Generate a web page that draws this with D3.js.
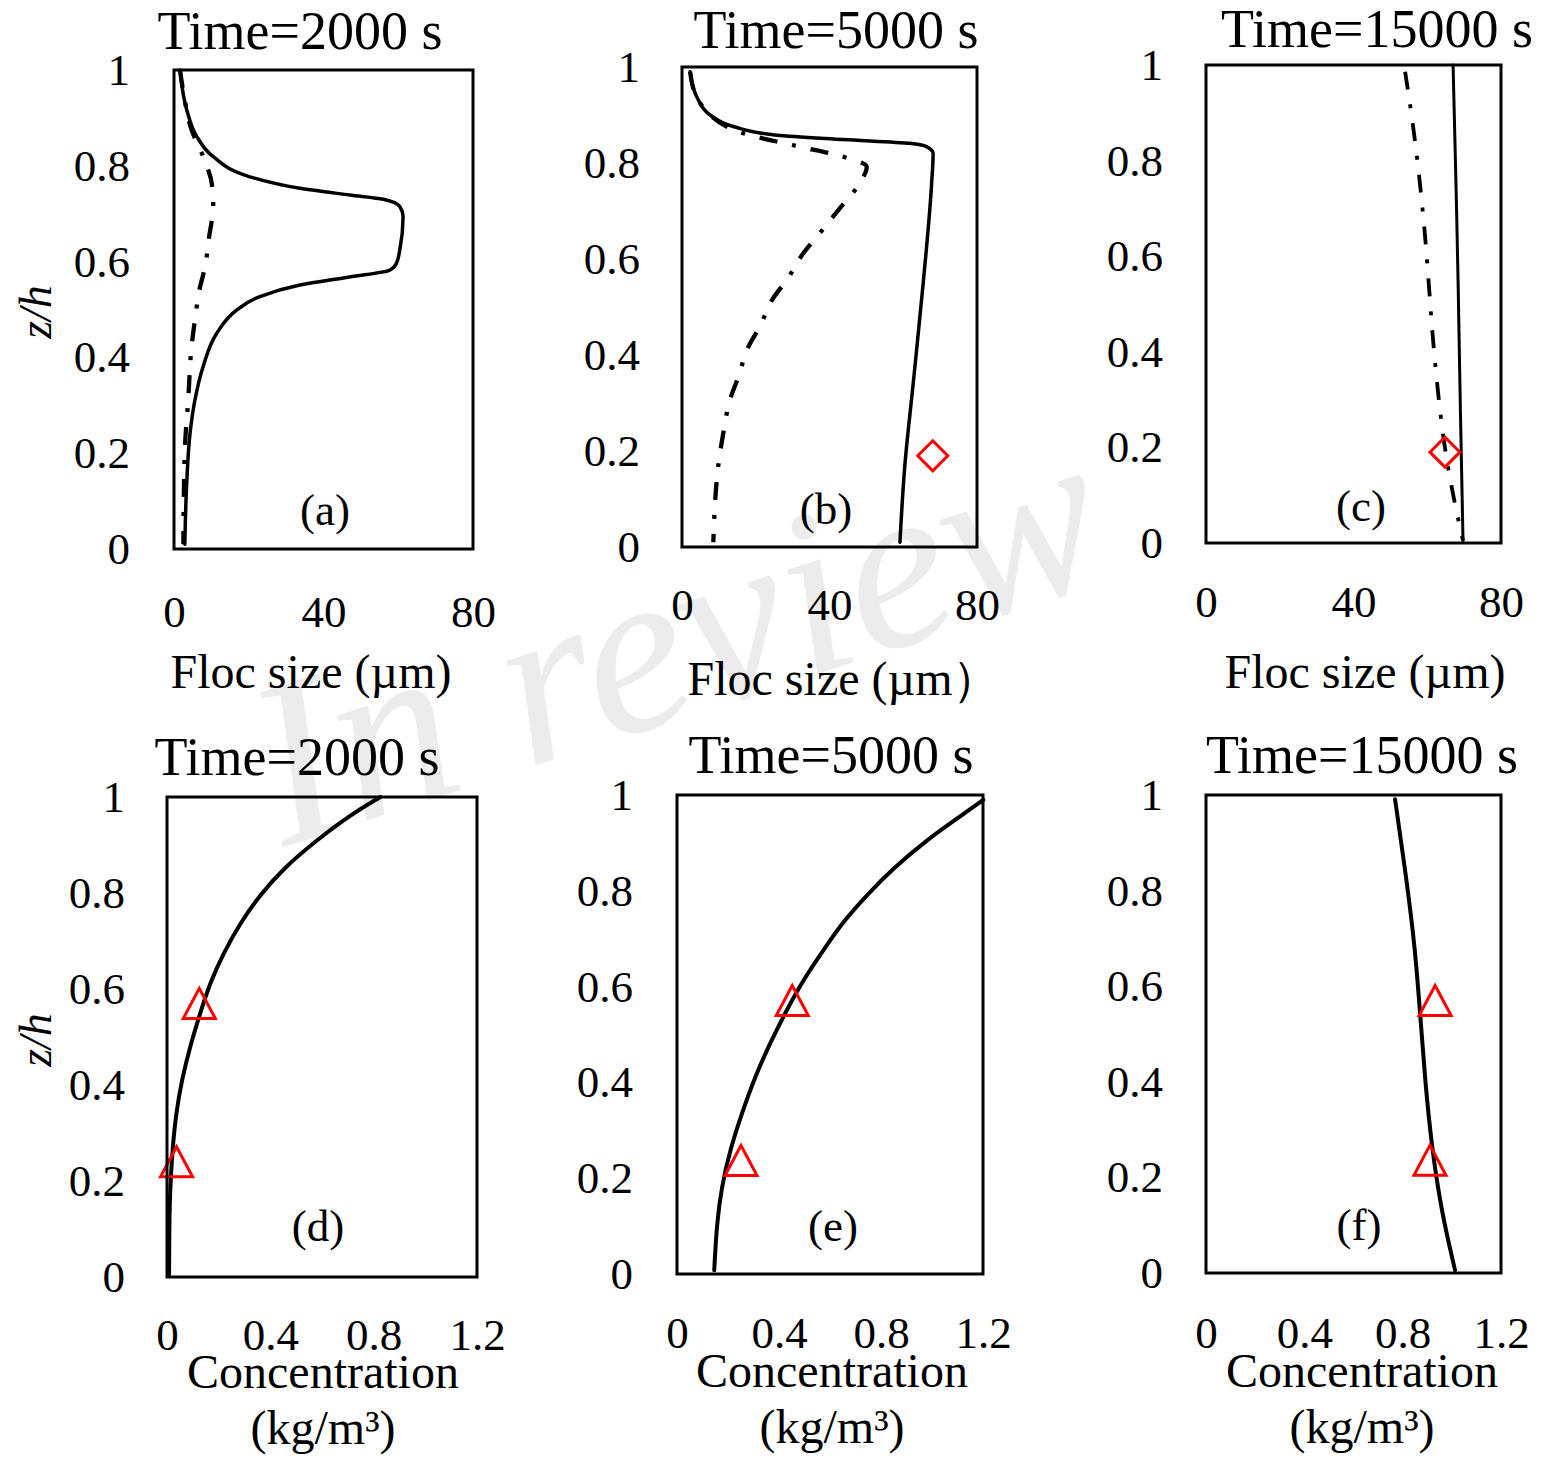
<!DOCTYPE html>
<html>
<head>
<meta charset="utf-8">
<script src="https://cdn.jsdelivr.net/npm/d3@7"></script>
<style>
  body { margin: 0; background: #fff; }
  svg text { font-family: "Liberation Serif", "Times New Roman", serif; fill: #000; }
</style>
</head>
<body>
<svg id="fig" width="1550" height="1460"></svg>
<script>
// values: [x, z/h]
var zTicks = [0, 0.2, 0.4, 0.6, 0.8, 1];
var flocTicks = [0, 40, 80];
var concTicks = [0, 0.4, 0.8, 1.2];

var flocSolid2000 = [[1.6,1.0],[3.4,0.917],[6.1,0.861],[10.5,0.819],[20.3,0.777],[33.7,0.753],[47,0.739],[56,0.73],[60.4,0.715],[61.3,0.694],[60.4,0.624],[59.5,0.596],[57.7,0.582],[47,0.568],[33.7,0.551],[23,0.527],[16.8,0.499],[11.4,0.45],[7.8,0.381],[5.6,0.311],[4.3,0.242],[3.4,0.137],[2.9,0.01]];
var flocDash2000 = [[1.6,1.0],[2.6,0.95],[4.7,0.875],[7.8,0.819],[10.1,0.763],[10.5,0.715],[9.4,0.652],[8.3,0.589],[6.8,0.541],[5.6,0.478],[4.7,0.422],[3.8,0.311],[2.9,0.207],[2.5,0.01]];

var flocSolid5000 = [[2.2,0.99],[4.0,0.938],[7.6,0.9],[13.9,0.876],[25.7,0.858],[43.7,0.849],[61.8,0.841],[66.3,0.834],[68.1,0.82],[67.7,0.758],[65.4,0.549],[62.7,0.341],[60.4,0.167],[59.1,0.01]];
var flocDash5000 = [[2.2,0.99],[4.0,0.938],[7.6,0.9],[12.1,0.876],[16.6,0.862],[30.2,0.837],[43.7,0.813],[50.1,0.792],[48.2,0.758],[42.4,0.702],[37.4,0.654],[32.9,0.612],[28.4,0.556],[24.7,0.518],[21.1,0.459],[18.0,0.417],[15.3,0.355],[13.0,0.306],[11.2,0.237],[9.8,0.167],[8.9,0.084],[8.5,0.01]];
var flocObs5000 = [[68, 0.19]];

var flocSolid15000 = [[67.0,1.0],[67.8,0.753],[68.4,0.543],[69.0,0.264],[69.7,0.005]];
var flocDash15000 = [[54.0,0.986],[56.2,0.874],[57.9,0.763],[59.4,0.648],[60.5,0.533],[61.6,0.418],[63.0,0.306],[64.8,0.191],[67.5,0.08],[69.7,0.005]];
var flocObs15000 = [[64.8, 0.19]];

var conc2000 = [[0.826,1.0],[0.708,0.962],[0.579,0.91],[0.45,0.851],[0.36,0.796],[0.283,0.737],[0.218,0.674],[0.166,0.612],[0.128,0.549],[0.089,0.48],[0.057,0.41],[0.035,0.341],[0.022,0.271],[0.014,0.202],[0.009,0.133],[0.008,0.005]];
var concObs2000 = [[0.125,0.57],[0.037,0.24]];

var conc5000 = [[1.201,0.99],[1.11,0.955],[0.979,0.906],[0.848,0.847],[0.744,0.791],[0.652,0.736],[0.574,0.676],[0.495,0.614],[0.43,0.551],[0.365,0.482],[0.306,0.412],[0.254,0.335],[0.208,0.259],[0.175,0.182],[0.156,0.106],[0.146,0.008]];
var concObs5000 = [[0.452,0.571],[0.251,0.237]];

var conc15000 = [[0.769,0.991],[0.816,0.822],[0.85,0.682],[0.871,0.543],[0.891,0.404],[0.918,0.264],[0.959,0.125],[1.013,0.006]];
var concObs15000 = [[0.932,0.57],[0.911,0.236]];

var FLOC_LABEL = "Floc size (\u00b5m)";

// layout of each panel (box corners, text anchors)
var panels = [
  { box: [174, 70, 473, 549], xmax: 80, xticks: flocTicks, title: "Time=2000 s", tpos: [300, 49],
    letter: "(a)", lpos: [325, 525], ypad: 44, xbase: 627, xlab: [FLOC_LABEL], xlpos: [311, 688],
    zlab: [35, 312], solid: flocSolid2000, dash: flocDash2000, marks: [], sym: "diamond", lw: 3.5, smooth: false },
  { box: [682, 67, 977, 547], xmax: 80, xticks: flocTicks, title: "Time=5000 s", tpos: [836, 48],
    letter: "(b)", lpos: [826, 524], ypad: 42, xbase: 620, xlab: ["Floc size (\u00b5m\uff09"], xlpos: [844, 695],
    solid: flocSolid5000, dash: flocDash5000, marks: flocObs5000, sym: "diamond", lw: 3.5, smooth: false },
  { box: [1206, 65, 1501, 543], xmax: 80, xticks: flocTicks, title: "Time=15000 s", tpos: [1377, 47],
    letter: "(c)", lpos: [1361, 521], ypad: 43, xbase: 617, xlab: [FLOC_LABEL], xlpos: [1365, 688],
    solid: flocSolid15000, dash: flocDash15000, marks: flocObs15000, sym: "diamond", lw: 3, smooth: true },
  { box: [167, 797, 477, 1277], xmax: 1.2, xticks: concTicks, title: "Time=2000 s", tpos: [297, 775],
    letter: "(d)", lpos: [318, 1241], ypad: 42, xbase: 1350, xlab: ["Concentration", "(kg/m\u00b3)"], xlpos: [323, 1388],
    zlab: [35, 1040], solid: conc2000, dash: null, marks: concObs2000, sym: "triangle", lw: 4, smooth: true },
  { box: [677, 795, 983, 1274], xmax: 1.2, xticks: concTicks, title: "Time=5000 s", tpos: [831, 773],
    letter: "(e)", lpos: [833, 1241], ypad: 44, xbase: 1348, xlab: ["Concentration", "(kg/m\u00b3)"], xlpos: [832, 1387],
    solid: conc5000, dash: null, marks: concObs5000, sym: "triangle", lw: 4, smooth: true },
  { box: [1206, 795, 1501, 1273], xmax: 1.2, xticks: concTicks, title: "Time=15000 s", tpos: [1362, 773],
    letter: "(f)", lpos: [1359, 1240], ypad: 43, xbase: 1348, xlab: ["Concentration", "(kg/m\u00b3)"], xlpos: [1362, 1387],
    solid: conc15000, dash: null, marks: concObs15000, sym: "triangle", lw: 4, smooth: true }
];

// Excel style markers, centred on their box
var triangleSym = { draw: function (ctx, size) {
  var s = Math.sqrt(size) / 2;
  ctx.moveTo(0, -s * 0.94); ctx.lineTo(s, s * 0.94); ctx.lineTo(-s, s * 0.94); ctx.closePath();
}};
var diamondSym = { draw: function (ctx, size) {
  var s = Math.sqrt(size) / 2;
  ctx.moveTo(0, -s); ctx.lineTo(s, 0); ctx.lineTo(0, s); ctx.lineTo(-s, 0); ctx.closePath();
}};

var svg = d3.select("#fig");
svg.append("rect").attr("width", 1550).attr("height", 1460).attr("fill", "#fff");

// watermark
svg.append("text")
  .attr("transform", "translate(700,712) rotate(-18)")
  .attr("text-anchor", "middle")
  .style("font-style", "italic")
  .style("font-size", "236px")
  .style("fill", "#ececec")
  .text("In review");

panels.forEach(function (p) {
  var x0 = p.box[0], y0 = p.box[1], x1 = p.box[2], y1 = p.box[3];
  var x = d3.scaleLinear().domain([0, p.xmax]).range([x0, x1]);
  var y = d3.scaleLinear().domain([0, 1]).range([y1, y0]);
  var g = svg.append("g");

  // the smooth profiles were read point by point, so a B-spline evens out reading noise
  var line = d3.line()
    .x(function (d) { return x(d[0]); })
    .y(function (d) { return y(d[1]); })
    .curve(p.smooth ? d3.curveBasis : d3.curveMonotoneY);

  if (p.dash) {
    g.append("path").datum(p.dash)
      .attr("d", line).attr("fill", "none")
      .attr("stroke", "#000").attr("stroke-width", p.lw + 0.8)
      .attr("stroke-dasharray", "18,15,4,15");
  }
  g.append("path").datum(p.solid)
    .attr("d", line).attr("fill", "none")
    .attr("stroke", "#000").attr("stroke-width", p.lw)
    .attr("stroke-linejoin", "round").attr("stroke-linecap", "round");

  var sym = d3.symbol().type(p.sym == "triangle" ? triangleSym : diamondSym).size(p.sym == "triangle" ? 1024 : 900);
  g.selectAll("path.mark").data(p.marks).enter().append("path")
    .attr("class", "mark")
    .attr("transform", function (d) { return "translate(" + x(d[0]) + "," + y(d[1]) + ")"; })
    .attr("d", sym)
    .attr("fill", "none").attr("stroke", "#f00").attr("stroke-width", 3);

  // frame
  g.append("rect")
    .attr("x", x0).attr("y", y0).attr("width", x1 - x0).attr("height", y1 - y0)
    .attr("fill", "none").attr("stroke", "#000").attr("stroke-width", 3);

  // axes: labels only
  var ya = g.append("g").attr("transform", "translate(" + x0 + ",0)")
    .call(d3.axisLeft(y).tickValues(zTicks).tickSize(0).tickPadding(p.ypad).tickFormat(d3.format("")));
  var xa = g.append("g").attr("transform", "translate(0," + y1 + ")")
    .call(d3.axisBottom(x).tickValues(p.xticks).tickSize(0).tickFormat(d3.format("")));
  [ya, xa].forEach(function (a) {
    a.select(".domain").remove();
    a.selectAll("text").attr("font-family", null).attr("fill", null).style("font-size", "45px");
  });
  xa.selectAll("text").attr("dy", null).attr("y", p.xbase - y1);

  g.append("text").attr("x", p.tpos[0]).attr("y", p.tpos[1])
    .attr("text-anchor", "middle").style("font-size", "54px").text(p.title);
  g.append("text").attr("x", p.lpos[0]).attr("y", p.lpos[1])
    .attr("text-anchor", "middle").style("font-size", "45px").text(p.letter);

  p.xlab.forEach(function (t, i) {
    g.append("text").attr("x", p.xlpos[0]).attr("y", p.xlpos[1] + i * 56)
      .attr("text-anchor", "middle").style("font-size", "48px").text(t);
  });

  if (p.zlab) {
    g.append("text")
      .attr("transform", "translate(" + p.zlab[0] + "," + p.zlab[1] + ") rotate(-90)")
      .attr("text-anchor", "middle").attr("dy", "0.35em")
      .style("font-size", "46px").style("font-style", "italic").text("z/h");
  }
});
</script>
</body>
</html>
